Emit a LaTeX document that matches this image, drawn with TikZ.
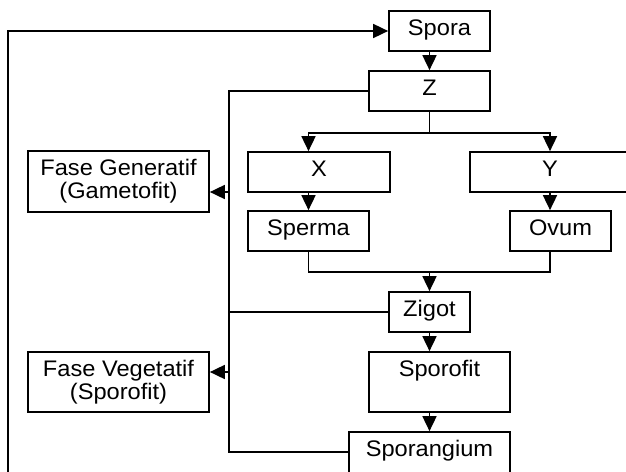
\documentclass[tikz,border=0pt]{standalone}
\usepackage{fontspec}
\setmainfont[FakeStretch=1.05]{Liberation Sans}
\usetikzlibrary{arrows.meta,calc}
\begin{document}
\begin{tikzpicture}[x=1pt,y=-1pt,
  box/.style={draw,line width=1.7pt,inner sep=0pt,minimum height=40pt,align=center,
    font=\fontsize{22.5}{23}\selectfont},
  one/.style={box,text height=14pt,text depth=6pt},
  top/.style={box,minimum height=60pt,text height=14pt,text depth=26pt},
  ln/.style={line width=1.7pt},
  arr/.style={line width=1.7pt,-{Triangle[length=15pt,width=14pt]}}]
\useasboundingbox (0,0) rectangle (626,471);
\clip (0,0) rectangle (626,471);
\node[one,minimum width=101pt] (spora) at (439.5,31) {Spora};
\node[one,minimum width=121pt] (z) at (429.5,91) {Z};
\node[one,minimum width=142pt] (x) at (319,172) {X};
\node[one,minimum width=160pt] (y) at (550,172) {Y};
\node[one,minimum width=121pt] (sperma) at (308.5,231) {Sperma};
\node[one,minimum width=101pt] (ovum) at (560.5,231) {Ovum};
\node[one,minimum width=81pt] (zigot) at (429.5,312) {Zigot};
\node[top,minimum width=141pt] (sporofit) at (439.5,382) {Sporofit};
\node[top,minimum width=161pt] (sporangium) at (429.5,462) {Sporangium};
\node[box,minimum width=181pt,minimum height=61pt] (fg) at (118.5,181.5) {Fase Generatif\\(Gametofit)};
\node[box,minimum width=181pt,minimum height=60pt] (fv) at (118.5,382) {Fase Vegetatif\\(Sporofit)};
% feedback loop
\coordinate (fb) at (8,480);
\draw[arr] (fb) |- (spora.west);
\draw[arr] (z.north |- spora.south) -- (z.north);
% left spine
\coordinate (ltop) at (229,91);
\coordinate (lbot) at (229,452);
\draw[ln] (z.west) -- (ltop) -- (lbot) -- (lbot -| sporangium.west);
\draw[ln] (zigot.west) -- (zigot.west -| ltop);
\coordinate (g) at (229,192);
\coordinate (v) at (229,372);
\draw[arr] (g) -- (g -| fg.east);
\draw[arr] (v) -- (v -| fv.east);
% split Z
\coordinate (zs) at ($(z.south)+(0,21)$);
\draw[ln] (z.south) -- (zs);
\draw[arr] (zs) -| (x.north -| sperma.north);
\draw[arr] (zs) -| (y.north);
\draw[arr] (x.south -| sperma.north) -- (sperma.north);
\draw[arr] (y.south) -- (ovum.north -| y.south);
% merge
\coordinate (m) at (429.5,272);
\draw[ln] (sperma.south) |- (m);
\draw[ln] (ovum.south -| y.south) |- (m);
\draw[arr] (m) -- (zigot.north);
\draw[arr] (zigot.south) -- (sporofit.north -| zigot.south);
\draw[arr] (sporofit.south -| sporangium.north) -- (sporangium.north);
\end{tikzpicture}
\end{document}
